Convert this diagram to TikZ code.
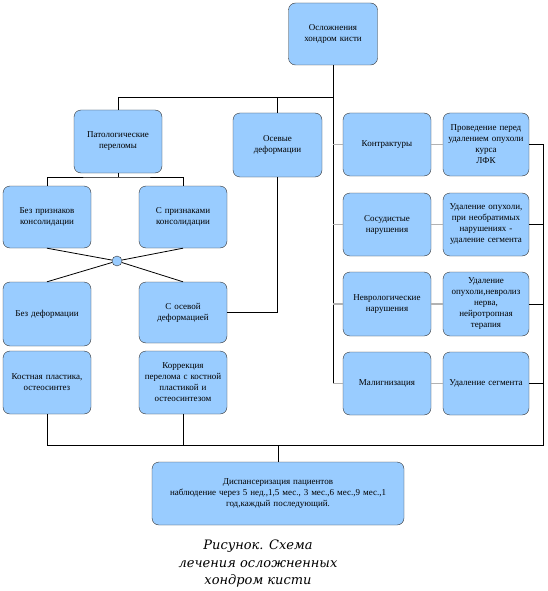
\documentclass[tikz,border=0pt]{standalone}
\usepackage{fontspec}
\setmainfont{Liberation Serif}
\newfontfamily\capfont{DejaVu Serif}
\usepackage{tikz}
\definecolor{boxblue}{RGB}{153,204,255}
\tikzset{
  box/.style={draw=black!80, fill=boxblue, rounded corners=7pt, minimum width=88pt, minimum height=63pt,
    text width=84pt, align=center, inner sep=1pt, font=\fontsize{9}{11}\selectfont},
  link/.style={draw=black, line width=0.8pt},
  side/.style={draw=black!30, line width=1.4pt}
}
\begin{document}
\begin{tikzpicture}[x=1pt,y=-1pt]
\useasboundingbox (0,0) rectangle (547,591);
\node[box, minimum width=89pt, minimum height=62pt] (top) at (333,34) {Осложнения\\хондром кисти};
\node[box] (pat) at (118,141.5) {Патологические\\переломы};
\node[box, minimum width=89pt, minimum height=64pt] (osev) at (277.5,145) {Осевые\\деформации};
\node[box] (kontr) at (387,144.5) {Контрактуры};
\node[box, minimum width=86pt] (proved) at (486,144.5) {Проведение перед\\удалением опухоли\\курса\\ЛФК};
\node[box, minimum height=62pt] (bez) at (47,217) {Без признаков\\консолидации};
\node[box, minimum height=62pt] (spriz) at (183,217) {С признаками\\консолидации};
\node[circle, draw=black!80, fill=boxblue, minimum size=10pt, inner sep=0pt] (c) at (117,261) {};
\node[box, minimum height=64pt] (bezdef) at (47,314) {Без деформации};
\node[box, minimum height=61pt] (sosev) at (183,312.5) {С осевой\\деформацией};
\node[box] (kost) at (47,382.5) {Костная пластика,\\остеосинтез};
\node[box] (korr) at (183,382.5) {Коррекция\\перелома с костной\\пластикой и\\остеосинтезом};
\node[box] (sosud) at (387,224.5) {Сосудистые\\нарушения};
\node[box, minimum width=86pt] (udal1) at (486,224.5) {Удаление опухоли,\\при необратимых\\нарушениях -\\удаление сегмента};
\node[box, minimum height=64pt] (nevr) at (387,304) {Неврологические\\нарушения};
\node[box, minimum width=86pt, minimum height=64pt] (udal2) at (486,304) {Удаление\\опухоли,невролиз\\нерва,\\нейротропная\\терапия};
\node[box] (malig) at (387,383.5) {Малигнизация};
\node[box, minimum width=86pt] (udal3) at (486,383.5) {Удаление сегмента};
\node[box, minimum width=252pt, text width=248pt] (disp) at (278,493.5) {Диспансеризация пациентов\\наблюдение через 5 нед.,1,5 мес., 3 мес.,6 мес.,9 мес.,1\\год,каждый последующий.};
\node[align=center, font=\capfont\itshape\fontsize{13}{17.5}\selectfont] (cap) at (258,564) {Рисунок. Схема\\лечения осложненных\\хондром кисти};
\coordinate (j1) at (333,97);
\coordinate (j2) at (333,383.5);
\coordinate (j3) at (543,445);
\coordinate (j4) at (118,177);
\draw[link] (top) -- (j1) -| (pat);
\draw[link] (osev) -- (osev |- j1);
\draw[link] (j1) -- (j2);
\foreach \a/\b in {kontr/proved, sosud/udal1, nevr/udal2, malig/udal3} {
  \draw[side] (\a -| j1) -- (\a) -- (\b);
  \draw[link] (\b) -- (\b -| j3);
}
\draw[link] (proved) -| (j3) -- (j3 -| kost) -- (kost);
\draw[link] (korr) -- (korr |- j3);
\draw[link] (disp) -- (disp |- j3);
\draw[link] (pat) -- (j4);
\draw[link] (bez) |- (j4) -| (spriz);
\draw[link] (sosev) -| (osev);
\draw[link] (bez.south) -- (c) -- (sosev.north);
\draw[link] (spriz.south) -- (c) -- (bezdef.north);
\end{tikzpicture}
\end{document}
